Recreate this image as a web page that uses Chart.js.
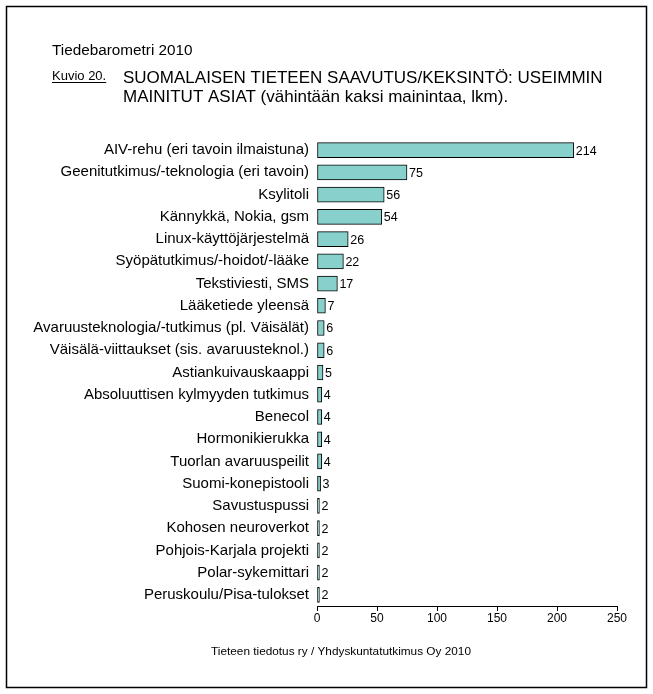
<!DOCTYPE html>
<html>
<head>
<meta charset="utf-8">
<script src="https://cdn.jsdelivr.net/npm/chart.js@4"></script>
<style>
  body { margin: 0; background: #fff; }
  #wrap { position: relative; width: 653px; height: 694px; }
</style>
</head>
<body>
<div id="wrap"><canvas id="myChart" width="653" height="694"></canvas></div>
<script>
var labels = [
  "AIV-rehu (eri tavoin ilmaistuna)",
  "Geenitutkimus/-teknologia (eri tavoin)",
  "Ksylitoli",
  "Kännykkä, Nokia, gsm",
  "Linux-käyttöjärjestelmä",
  "Syöpätutkimus/-hoidot/-lääke",
  "Tekstiviesti, SMS",
  "Lääketiede yleensä",
  "Avaruusteknologia/-tutkimus (pl. Väisälät)",
  "Väisälä-viittaukset (sis. avaruusteknol.)",
  "Astiankuivauskaappi",
  "Absoluuttisen kylmyyden tutkimus",
  "Benecol",
  "Hormonikierukka",
  "Tuorlan avaruuspeilit",
  "Suomi-konepistooli",
  "Savustuspussi",
  "Kohosen neuroverkot",
  "Pohjois-Karjala projekti",
  "Polar-sykemittari",
  "Peruskoulu/Pisa-tulokset"
];
var values = [214, 75, 56, 54, 26, 22, 17, 7, 6, 6, 5, 4, 4, 4, 4, 3, 2, 2, 2, 2, 2];
var xTicks = [0, 50, 100, 150, 200, 250];

var font = "'Liberation Sans', Arial, sans-serif";

// kehys, otsikot ja alateksti
var pageText = {
  id: "pageText",
  beforeDraw: function(chart) {
    var c = chart.ctx;
    c.save();
    c.fillStyle = "#fff";
    c.fillRect(0, 0, chart.width, chart.height);
    c.strokeStyle = "#000";
    c.lineWidth = 1.5;
    c.strokeRect(6.5, 6.5, 640, 681);
    c.fillStyle = "#000";
    c.textBaseline = "alphabetic";
    c.textAlign = "left";
    c.font = "15.3px " + font;
    c.fillText("Tiedebarometri 2010", 52, 55);
    c.font = "13px " + font;
    c.fillText("Kuvio 20.", 52, 80);
    var w = c.measureText("Kuvio 20.").width;
    c.fillRect(52, 82, w, 1);
    c.font = "17px " + font;
    c.fillText("SUOMALAISEN TIETEEN SAAVUTUS/KEKSINTÖ: USEIMMIN", 123, 83);
    c.fillText("MAINITUT ASIAT (vähintään kaksi mainintaa, lkm).", 123, 102);
    c.font = "11.8px " + font;
    c.textAlign = "center";
    c.fillText("Tieteen tiedotus ry / Yhdyskuntatutkimus Oy 2010", 341, 655);
    c.restore();
  },
  afterDatasetsDraw: function(chart) {
    var c = chart.ctx;
    var meta = chart.getDatasetMeta(0);
    c.save();
    c.fillStyle = "#000";
    c.font = "12.5px " + font;
    c.textAlign = "left";
    c.textBaseline = "middle";
    meta.data.forEach(function(bar, i) {
      c.fillText(values[i], bar.x + 2, bar.y + 1);
    });
    c.restore();
  }
};

var ctx = document.getElementById("myChart").getContext("2d");
var myChart = new Chart(ctx, {
  type: "bar",
  data: {
    labels: labels,
    datasets: [{
      data: values,
      backgroundColor: "#88d0cc",
      borderColor: "#000",
      borderWidth: 1,
      borderSkipped: false,
      barThickness: 15
    }]
  },
  options: {
    indexAxis: "y",
    responsive: false,
    animation: false,
    layout: { padding: { left: 0, right: 36, top: 139, bottom: 68 } },
    plugins: { legend: { display: false }, tooltip: { enabled: false } },
    scales: {
      x: {
        min: 0,
        max: 250,
        afterBuildTicks: function(axis) {
          axis.ticks = xTicks.map(function(v) { return { value: v }; });
        },
        afterFit: function(axis) { axis.height = 20; },
        border: { display: true, color: "#000", width: 1 },
        grid: { drawOnChartArea: false, drawTicks: true, tickLength: 5, color: "#000" },
        ticks: { color: "#000", font: { family: font, size: 12 }, padding: 0, maxRotation: 0 }
      },
      y: {
        afterFit: function(axis) { axis.width = 317; },
        border: { display: false },
        grid: { display: false },
        ticks: { color: "#000", font: { family: font, size: 15 }, padding: 0, autoSkip: false }
      }
    }
  },
  plugins: [pageText]
});
</script>
</body>
</html>
